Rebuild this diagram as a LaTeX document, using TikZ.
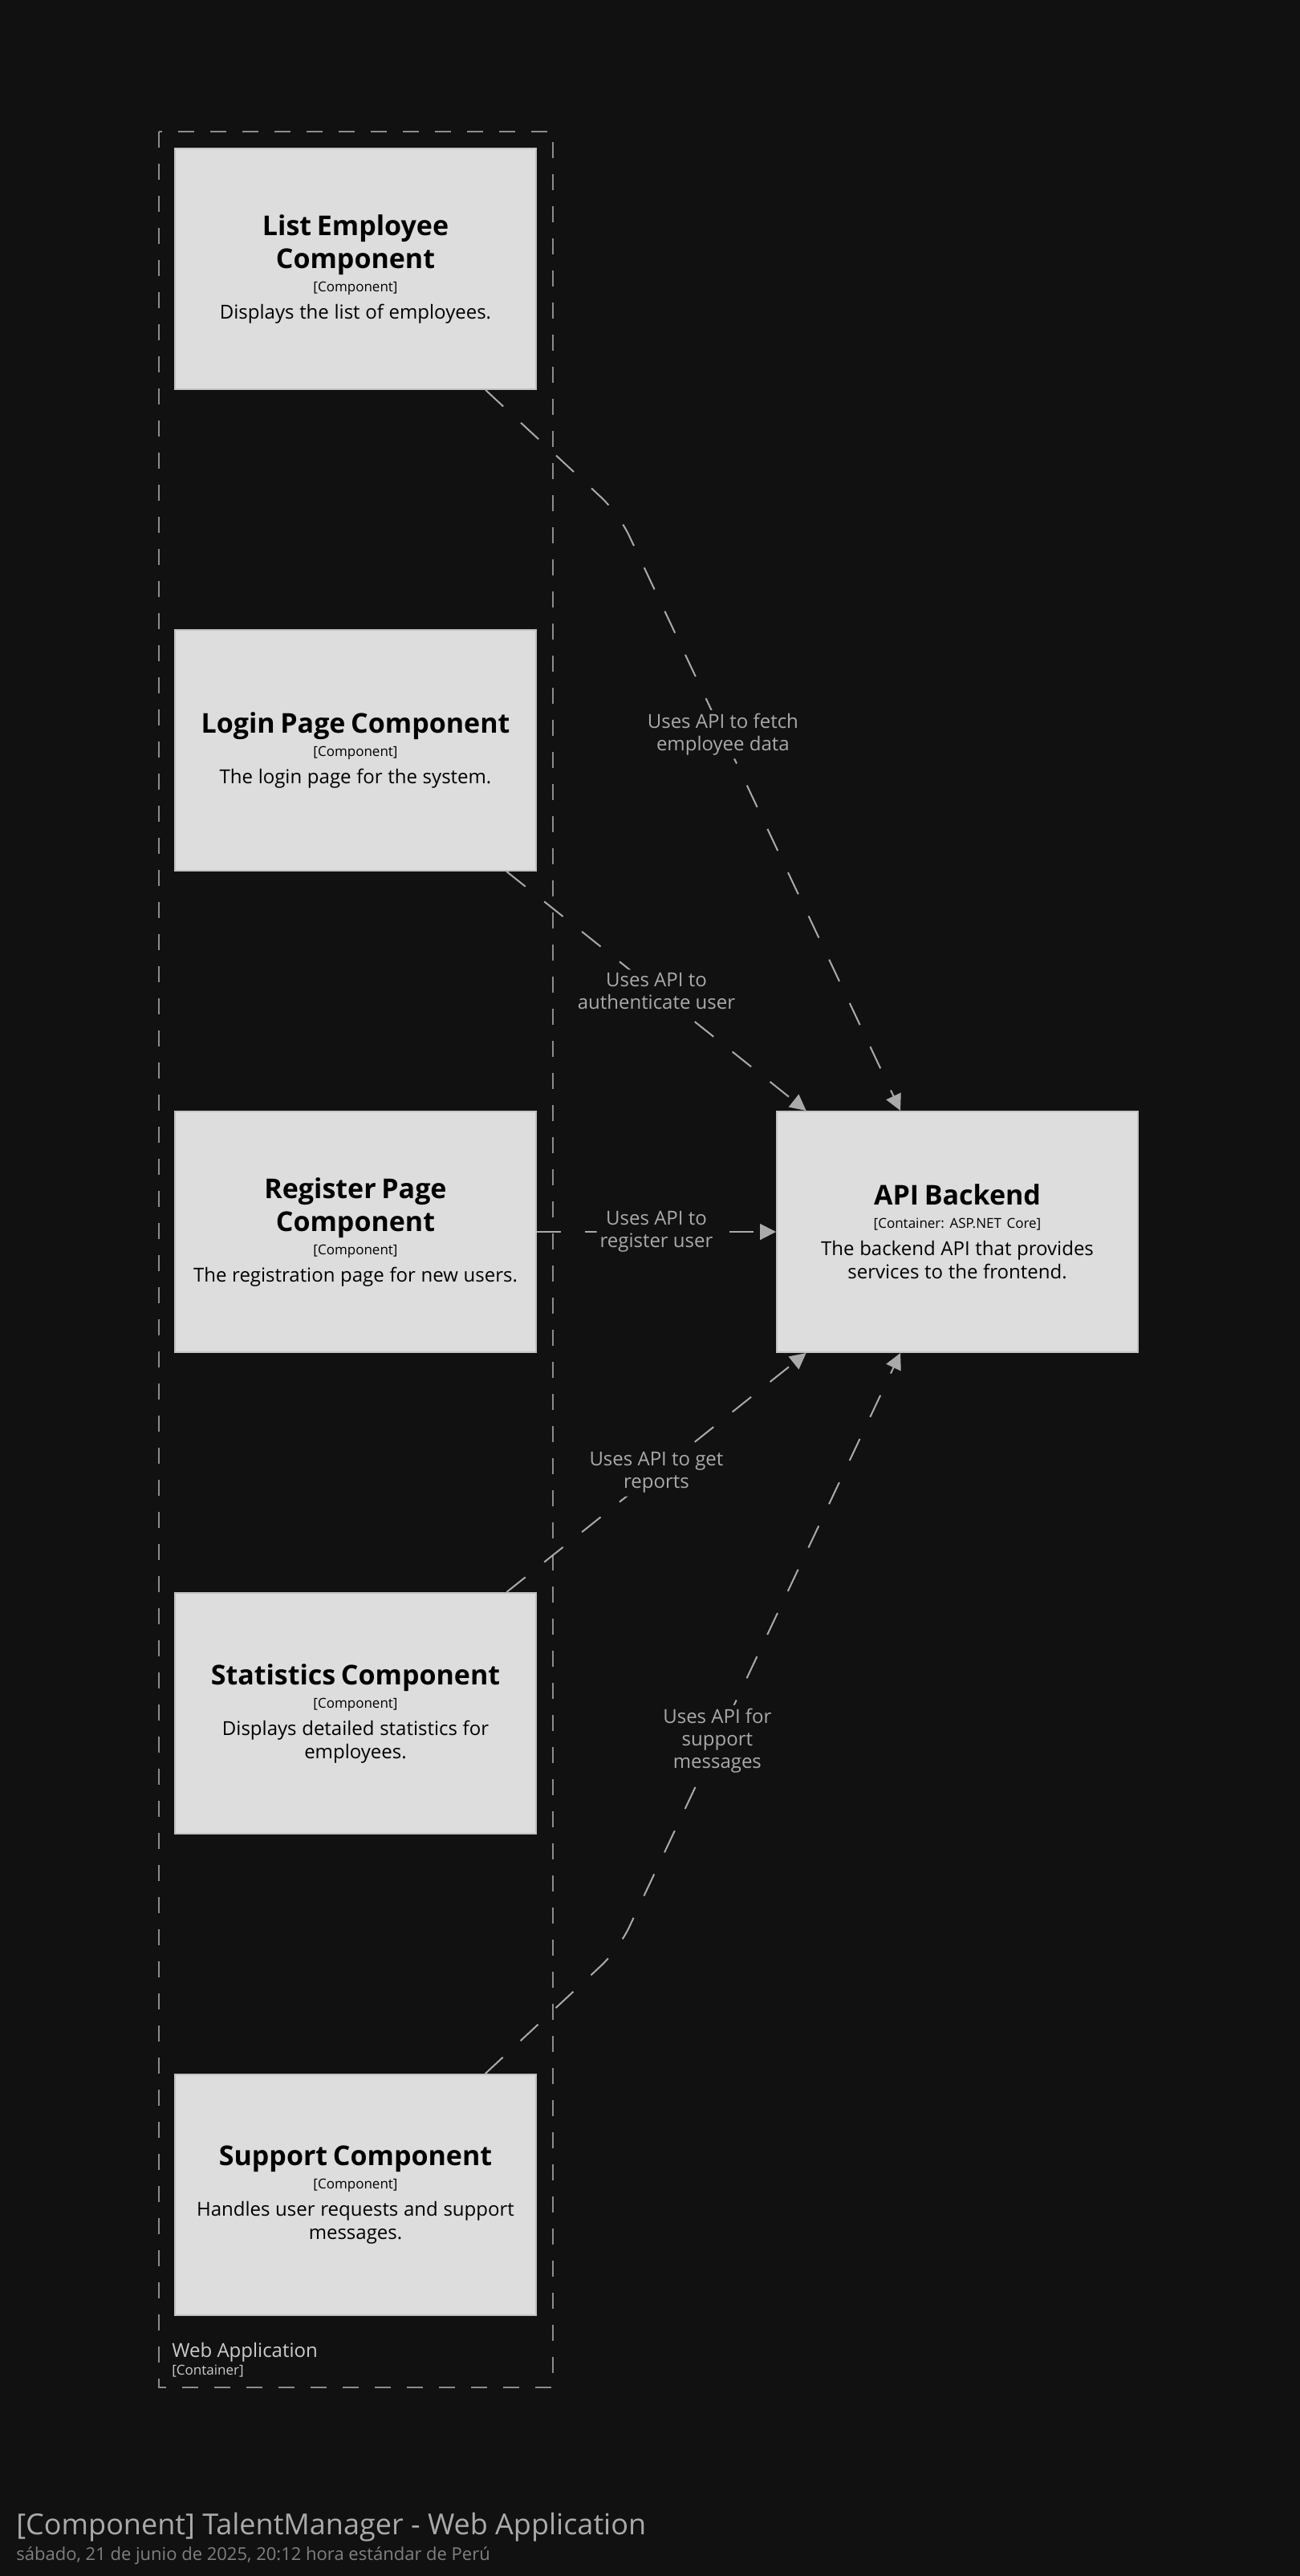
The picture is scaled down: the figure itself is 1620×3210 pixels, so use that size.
\documentclass[tikz,border=0pt]{standalone}
\usepackage{fontspec}
\setmainfont{Open Sans}
\usetikzlibrary{arrows.meta}
\frenchspacing
\definecolor{bg}{HTML}{111111}
\definecolor{boxfill}{HTML}{DDDDDD}
\definecolor{boxline}{HTML}{C2C2C2}
\definecolor{relline}{HTML}{AAAAAA}
\definecolor{frameline}{HTML}{8C8C8C}
\definecolor{frametext}{HTML}{CCCCCC}
\definecolor{titletext}{HTML}{AAAAAA}
\definecolor{datetext}{HTML}{808080}
\newcommand{\comptext}[3]{{\fontsize{17}{20.5}\selectfont\bfseries #1\par}{\fontsize{8.5}{14.5}\selectfont[#2]\par}\vspace{2.5pt}{\fontsize{12}{14.5}\selectfont #3\par}}
\begin{document}
\begin{tikzpicture}[x=0.5pt,y=-0.5pt,
    comp/.style={draw=boxline,fill=boxfill,line width=1pt,text width=210pt,inner sep=7.5pt,
      minimum height=150pt,align=center,text=black},
    rel/.style={draw=relline,line width=1pt,dash pattern=on 15pt off 15pt,
      -{Triangle[length=10pt,width=10pt]},rounded corners=15pt},
    rellabel/.style={fill=bg,text=relline,font=\fontsize{12}{14}\selectfont,align=center,inner sep=2pt},
    plain/.style={anchor=base west,inner sep=0pt}]
  \fill[bg] (0,0) rectangle (1620,3210);
  \draw[frameline,line width=1pt,dash pattern=on 10pt off 10pt] (198,164) rectangle (689,2975);
  \path
    (443,335) node[comp] (list) {\comptext{List Employee\\Component}{Component}{Displays the list of employees.}}
    (443,935) node[comp] (login) {\comptext{Login Page Component}{Component}{The login page for the system.}}
    (443,1535) node[comp] (register) {\comptext{Register Page\\Component}{Component}{The registration page for new users.}}
    (443,2135) node[comp] (stats) {\comptext{Statistics Component}{Component}{Displays detailed statistics for\\employees.}}
    (443,2735) node[comp] (support) {\comptext{Support Component}{Component}{Handles user requests and support\\messages.}}
    (1193,1535) node[comp] (api) {\comptext{API Backend}{Container: ASP.NET Core}{The backend API that provides\\services to the frontend.}};
  \coordinate (bendtop) at (771,640);
  \coordinate (bendbot) at (771,2429);
  \begin{scope}[rel]
    \draw (list) -- (bendtop) -- node[rellabel,pos=0.37] {Uses API to fetch\\employee data} (api);
    \draw (login) -- node[rellabel] {Uses API to\\authenticate user} (api);
    \draw (register) -- node[rellabel] {Uses API to\\register user} (api);
    \draw (stats) -- node[rellabel] {Uses API to get\\reports} (api);
    \draw (support) -- (bendbot) -- node[rellabel,pos=0.35] {Uses API for\\support\\messages} (api);
  \end{scope}
  \node[plain,text=frametext,font=\fontsize{12}{14}\selectfont] (webapp) at (214,2937) {Web Application};
  \node[plain,text=frametext,font=\fontsize{8.5}{10}\selectfont] (webtag) at (214,2959) {[Container]};
  \node[plain,text=titletext,font=\fontsize{18}{22}\selectfont] (title) at (20,3158) {[Component] TalentManager - Web Application};
  \node[plain,text=datetext,font=\fontsize{11}{13}\selectfont] (date) at (20,3190) {sábado, 21 de junio de 2025, 20:12 hora estándar de Perú};
\end{tikzpicture}
\end{document}
